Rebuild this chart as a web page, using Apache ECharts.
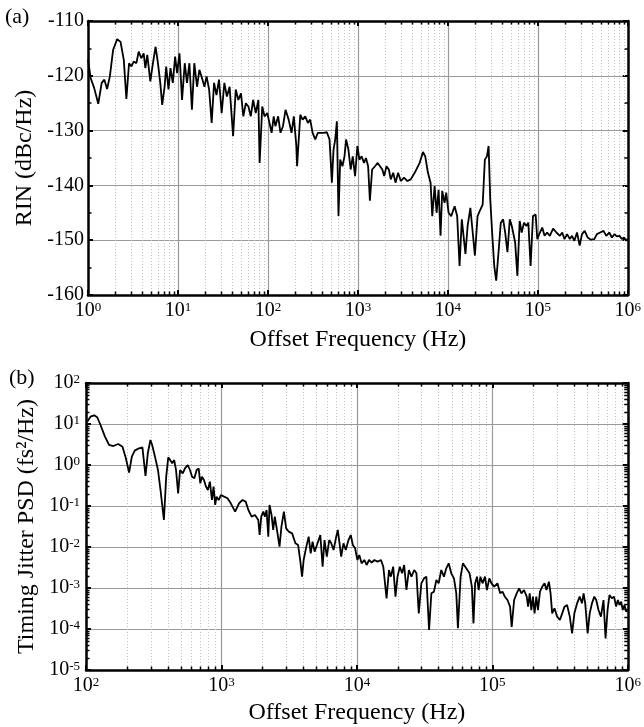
<!DOCTYPE html>
<html>
<head>
<meta charset="utf-8">
<script src="https://cdn.jsdelivr.net/npm/echarts@6/dist/echarts.min.js"></script>
<style>
  html, body { margin: 0; padding: 0; background: #fff; }
  #chart { width: 644px; height: 727px; }
</style>
</head>
<body>
<div id="chart"></div>
<script>
// (a) relative intensity noise spectrum
const freqA = [1.0, 1.07, 1.17, 1.30, 1.42, 1.52, 1.63, 1.75, 1.90, 2.11, 2.30, 2.50, 2.67, 2.86, 3.04, 3.22, 3.45, 3.66, 3.91, 4.16,
  4.34, 4.56, 4.93, 5.27, 5.64, 5.99, 6.36, 6.68, 7.10, 7.40, 7.85, 8.26, 8.76, 9.30, 9.78, 10.4, 11.1, 11.9, 12.6, 13.4,
  14.3, 15.2, 16.3, 17.3, 18.5, 19.7, 20.8, 22.2, 23.7, 25.2, 26.8, 28.6, 30.6, 32.8, 35.0, 37.5, 41.0, 43.9, 46.9, 50.2,
  53.3, 56.8, 60.7, 64.5, 68.5, 73.2, 78.3, 80.9, 86.5, 91.7, 98.3, 104, 110, 116, 121, 130, 138, 147, 157, 170,
  183, 194, 207, 211, 229, 243, 260, 278, 295, 314, 336, 359, 416, 452, 484, 514, 536, 560, 584, 609,
  636, 674, 710, 740, 785, 832, 877, 931, 987, 1040, 1100, 1170, 1230, 1300, 1360, 1440, 1550, 1660, 1760, 1870,
  1960, 2080, 2210, 2320, 2470, 2620, 2800, 3000, 3260, 3550, 3870, 4280, 4860, 5290, 5610, 6010, 6430, 6710, 7130, 7500,
  7890, 8300, 8660, 9190, 9590, 10200, 10900, 11900, 12700, 13500, 14300, 14900, 15700, 16600, 17800, 18900, 20000, 21400, 23000, 24400,
  25800, 27200, 28400, 29600, 31400, 32800, 34500, 36600, 38800, 41200, 43400, 46000, 48800, 51400, 53600, 56000, 59300, 62900, 66200, 70300,
  74600, 78500, 83200, 88400, 94600, 98700, 105700, 112000, 119000, 127000, 136000, 148000, 161000, 176000, 187000, 198000, 212000, 227000, 240000, 255000,
  273000, 292000, 310000, 332000, 358000, 390000, 425000, 454000, 494000, 538000, 577000, 622000, 666000, 713000, 755000, 809000, 858000, 910000, 958000, 1000000];
const rinA = [-117.0, -120.4, -122.2, -125.1, -121.3, -120.7, -122.4, -120.1, -115.3, -113.3, -113.8, -117.1, -124.2, -117.7, -118.3, -117.4, -117.7, -115.6, -116.8, -115.9,
  -118.6, -116.2, -121.0, -117.7, -114.7, -117.7, -121.3, -125.3, -122.0, -118.3, -122.5, -118.6, -121.3, -116.5, -119.5, -115.9, -124.4, -117.7, -121.3, -117.7,
  -126.2, -117.7, -122.0, -118.9, -120.4, -122.0, -120.1, -122.5, -128.6, -121.3, -123.5, -120.7, -126.8, -121.3, -123.8, -122.0, -131.0, -122.5, -124.4, -123.2,
  -127.4, -125.0, -125.6, -127.4, -124.4, -126.8, -124.4, -135.9, -125.6, -127.4, -126.8, -128.6, -130.4, -127.4, -129.2, -127.4, -130.4, -129.2, -126.2, -128.0,
  -130.4, -127.4, -132.8, -136.5, -127.1, -128.0, -127.4, -128.6, -128.0, -130.4, -131.6, -130.4, -130.4, -130.3, -131.6, -139.5, -133.5, -131.6, -128.3, -145.6,
  -135.3, -136.5, -134.7, -131.6, -133.5, -137.1, -134.7, -138.3, -132.8, -135.3, -134.7, -135.9, -135.0, -136.5, -142.8, -137.1, -136.5, -135.9, -136.5, -137.1,
  -138.3, -136.5, -137.1, -138.9, -137.7, -139.5, -137.7, -139.2, -138.6, -139.2, -138.9, -137.7, -135.9, -133.9, -134.7, -137.7, -139.5, -145.6, -140.1, -145.0,
  -140.8, -149.2, -141.0, -143.2, -141.3, -145.0, -145.6, -143.8, -145.6, -154.7, -146.2, -145.9, -152.5, -147.4, -144.1, -148.6, -152.8, -145.6, -144.4, -143.5,
  -135.3, -134.7, -132.8, -142.5, -149.8, -154.7, -157.4, -152.2, -146.8, -146.2, -148.6, -152.2, -146.2, -147.4, -147.1, -150.4, -156.5, -146.5, -148.6, -146.8,
  -147.4, -146.8, -154.7, -145.6, -145.3, -149.8, -148.6, -147.7, -149.2, -148.6, -149.2, -147.9, -148.6, -149.2, -148.6, -149.8, -148.9, -149.8, -149.2, -150.1,
  -148.6, -151.0, -148.9, -148.3, -149.5, -149.9, -149.8, -148.9, -148.6, -148.3, -149.2, -148.6, -149.5, -148.9, -149.3, -149.2, -149.8, -149.5, -150.1, -149.7];

// (b) timing jitter power spectral density
const freqB = [102, 108, 115, 121, 128, 138, 148, 159, 173, 186, 197, 208, 218, 229, 246, 261, 268, 275, 286, 299,
  308, 323, 340, 355, 376, 391, 405, 418, 433, 448, 462, 479, 495, 518, 538, 564, 586, 607, 631, 656,
  679, 698, 718, 743, 769, 794, 822, 851, 875, 899, 920, 953, 991, 1047, 1109, 1172, 1262, 1349, 1429, 1510,
  1581, 1671, 1770, 1871, 1914, 1968, 2037, 2094, 2153, 2218, 2265, 2344, 2410, 2477, 2582, 2685, 2773, 2891, 3006, 3141,
  3327, 3516, 3681, 3828, 3936, 4046, 4207, 4406, 4560, 4710, 4875, 5070, 5212, 5370, 5585, 5768, 5998, 6252, 6471, 6730,
  6998, 7228, 7447, 7656, 7962, 8279, 8670, 9016, 9333, 9705, 10090, 10420, 10840, 11350, 11800, 12300, 12850, 13460, 14220, 15070,
  15670, 16110, 16560, 17260, 17820, 18540, 19280, 19950, 20750, 21580, 22340, 23230, 24210, 25290, 26490, 27540, 28640, 29920, 31330, 32580,
  34120, 35480, 37070, 38640, 40180, 41980, 43950, 45710, 47640, 49770, 52120, 54200, 55720, 58340, 60670, 63100, 65160, 67920, 70630, 72610,
  74650, 77090, 79250, 81660, 84720, 88310, 91200, 95060, 98630, 103300, 109100, 114300, 118900, 123600, 129400, 135200, 139000, 144900, 151400, 157800,
  164100, 171400, 179500, 183700, 188800, 194100, 199500, 205100, 211300, 217300, 224900, 233900, 243200, 251200, 261800, 269200, 276700, 287700, 301300, 315500,
  328100, 341200, 356500, 373300, 388100, 403600, 422700, 441600, 459200, 472100, 485300, 505800, 523600, 544500, 566200, 584800, 608100, 633900, 662200, 685500,
  709600, 732800, 762100, 792500, 820400, 845300, 868900, 893300, 918300, 946200, 972700, 1000000];
const psdB = [11.4, 15.1, 16.3, 14.6, 9.46, 4.91, 3.08, 2.90, 3.25, 2.80, 1.46, 0.650, 1.60, 2.24, 2.55, 2.70, 2.55, 0.540, 1.93, 4.07,
  3.08, 1.60, 0.755, 0.245, 0.0456, 0.519, 1.54, 1.32, 1.10, 1.32, 0.755, 0.204, 0.755, 0.627, 0.830, 1.0, 0.755, 0.519, 0.473, 0.755,
  0.830, 0.357, 0.519, 0.431, 0.296, 0.245, 0.392, 0.140, 0.296, 0.106, 0.169, 0.140, 0.185, 0.169, 0.154, 0.116, 0.0728, 0.116, 0.140, 0.128,
  0.0798, 0.0550, 0.0603, 0.0456, 0.0196, 0.0550, 0.0728, 0.0550, 0.0798, 0.0179, 0.106, 0.0603, 0.0260, 0.0550, 0.0237, 0.0102, 0.0313, 0.0728, 0.0285, 0.0237,
  0.0215, 0.0123, 0.0112, 0.00439, 0.00189, 0.00482, 0.00927, 0.0179, 0.00700, 0.0135, 0.00769, 0.0112, 0.0123, 0.0196, 0.00331, 0.0148, 0.00581, 0.0148, 0.0123, 0.00845,
  0.0163, 0.0260, 0.0123, 0.00581, 0.0123, 0.00845, 0.0148, 0.0196, 0.0112, 0.00927, 0.00482, 0.00638, 0.00400, 0.00482, 0.00364, 0.00482, 0.00415, 0.00482, 0.00439, 0.00482,
  0.00331, 0.00364, 0.000560, 0.00275, 0.00189, 0.00331, 0.000615, 0.00189, 0.00331, 0.00228, 0.00364, 0.000893, 0.00275, 0.00189, 0.00275, 0.00228, 0.000241, 0.00130, 0.00172, 0.00189,
  0.0000946, 0.000741, 0.000815, 0.00157, 0.00130, 0.00275, 0.00189, 0.00302, 0.00400, 0.00228, 0.00172, 0.000741, 0.000104, 0.00189, 0.00400, 0.00331, 0.00364, 0.00228, 0.00108, 0.000137,
  0.00130, 0.00189, 0.000893, 0.00189, 0.00130, 0.00189, 0.000893, 0.00172, 0.00130, 0.00108, 0.00130, 0.000741, 0.000815, 0.000615, 0.000509, 0.000351, 0.000112, 0.000509, 0.000741, 0.000982,
  0.000741, 0.000893, 0.000615, 0.000351, 0.000741, 0.000290, 0.000615, 0.000241, 0.000615, 0.000290, 0.000815, 0.00108, 0.00130, 0.000893, 0.00143, 0.000741, 0.000241, 0.000319, 0.000200, 0.000166,
  0.000241, 0.000351, 0.000385, 0.000200, 0.0000783, 0.000241, 0.000423, 0.000615, 0.000423, 0.000741, 0.000423, 0.0000783, 0.000241, 0.000423, 0.000615, 0.000509, 0.000290, 0.000200, 0.000509, 0.0000592,
  0.000290, 0.000675, 0.000560, 0.000615, 0.000351, 0.000509, 0.000385, 0.000465, 0.000290, 0.000385, 0.000265, 0.000300];

const FONT = '"Liberation Serif", "Times New Roman", serif';

// minor tick positions (2..9 x 10^k) between two decades
function minorTicks(fromExp, toExp) {
  const out = [];
  for (let e = fromExp; e < toExp; e++) {
    for (let m = 2; m <= 9; m++) out.push(m * Math.pow(10, e));
  }
  return out;
}

const powLabel = {
  formatter: v => '{b|10}{s|' + Math.round(Math.log10(v)) + '}',
  rich: {
    b: { fontFamily: FONT, fontSize: 20, color: '#000', verticalAlign: 'bottom' },
    s: { fontFamily: FONT, fontSize: 13, color: '#000', verticalAlign: 'top' }
  }
};

const frameLine = { show: true, onZero: false, lineStyle: { color: '#000', width: 2.5 } };
const majorTick = { show: true, inside: true, length: 5, lineStyle: { color: '#000', width: 2 } };
const majorGrid = { show: true, lineStyle: { color: '#9a9a9a', width: 1.2 } };

function xMinorSeries(xi, yi, yRef, values) {
  return {
    type: 'custom', xAxisIndex: xi, yAxisIndex: yi, silent: true, z: 1, animation: false,
    data: values.map(v => [v, yRef]),
    renderItem(params, api) {
      const cs = params.coordSys;
      const x = Math.round(api.coord([api.value(0), yRef])[0]) + 0.5;
      const top = cs.y, bot = cs.y + cs.height;
      return { type: 'group', children: [
        { type: 'line', shape: { x1: x, y1: top, x2: x, y2: bot }, style: { stroke: '#c4c4c4', lineWidth: 1, lineDash: [1, 2] } },
        { type: 'line', shape: { x1: x, y1: bot, x2: x, y2: bot - 3.5 }, style: { stroke: '#000', lineWidth: 1.5 } },
        { type: 'line', shape: { x1: x, y1: top, x2: x, y2: top + 3.5 }, style: { stroke: '#000', lineWidth: 1.5 } }
      ] };
    }
  };
}

function yMinorSeries(xi, yi, xRef, values) {
  return {
    type: 'custom', xAxisIndex: xi, yAxisIndex: yi, silent: true, z: 1, animation: false,
    data: values.map(v => [xRef, v]),
    renderItem(params, api) {
      const cs = params.coordSys;
      const y = Math.round(api.coord([xRef, api.value(1)])[1]) + 0.5;
      const l = cs.x, r = cs.x + cs.width;
      return { type: 'group', children: [
        { type: 'line', shape: { x1: l, y1: y, x2: l + 3.5, y2: y }, style: { stroke: '#000', lineWidth: 1.5 } },
        { type: 'line', shape: { x1: r, y1: y, x2: r - 3.5, y2: y }, style: { stroke: '#000', lineWidth: 1.5 } }
      ] };
    }
  };
}

const nameStyle = { fontFamily: FONT, fontSize: 24, color: '#000' };

const option = {
  animation: false,
  backgroundColor: '#fff',
  textStyle: { fontFamily: FONT },
  graphic: [
    { type: 'text', left: 5, top: 6, style: { text: '(a)', font: '22px ' + FONT, fill: '#000' } },
    { type: 'text', left: 9, top: 367, style: { text: '(b)', font: '22px ' + FONT, fill: '#000' } }
  ],
  grid: [
    { left: 88, top: 21, width: 543, height: 274 },
    { left: 86, top: 383, width: 545, height: 287 }
  ],
  xAxis: [
    { gridIndex: 0, type: 'log', logBase: 10, min: 1, max: 1e6, position: 'bottom',
      name: 'Offset Frequency (Hz)', nameLocation: 'middle', nameGap: 33, nameTextStyle: nameStyle,
      axisLine: frameLine, axisTick: majorTick, splitLine: majorGrid,
      axisLabel: Object.assign({ margin: 6 }, powLabel) },
    { gridIndex: 0, type: 'log', logBase: 10, min: 1, max: 1e6, position: 'top',
      axisLine: frameLine, axisTick: majorTick, splitLine: { show: false }, axisLabel: { show: false } },
    { gridIndex: 1, type: 'log', logBase: 10, min: 100, max: 1e6, position: 'bottom',
      name: 'Offset Frequency (Hz)', nameLocation: 'middle', nameGap: 31, nameTextStyle: nameStyle,
      axisLine: frameLine, axisTick: majorTick, splitLine: majorGrid,
      axisLabel: Object.assign({ margin: 6 }, powLabel) },
    { gridIndex: 1, type: 'log', logBase: 10, min: 100, max: 1e6, position: 'top',
      axisLine: frameLine, axisTick: majorTick, splitLine: { show: false }, axisLabel: { show: false } }
  ],
  yAxis: [
    { gridIndex: 0, type: 'value', min: -160, max: -110, interval: 10, position: 'left',
      name: 'RIN (dBc/Hz)', nameLocation: 'middle', nameGap: 51, nameTextStyle: nameStyle,
      axisLine: frameLine, axisTick: majorTick, splitLine: majorGrid,
      minorTick: { show: true, splitNumber: 2, length: 3.5, lineStyle: { color: '#000', width: 1.5 } },
      axisLabel: { margin: 4, fontFamily: FONT, fontSize: 20, color: '#000' } },
    { gridIndex: 0, type: 'value', min: -160, max: -110, interval: 10, position: 'right',
      axisLine: frameLine, axisTick: majorTick, splitLine: { show: false },
      minorTick: { show: true, splitNumber: 2, length: 3.5, lineStyle: { color: '#000', width: 1.5 } },
      axisLabel: { show: false } },
    { gridIndex: 1, type: 'log', logBase: 10, min: 1e-5, max: 100, position: 'left',
      name: 'Timing Jitter PSD (fs²/Hz)', nameLocation: 'middle', nameGap: 42, nameTextStyle: nameStyle,
      axisLine: frameLine, axisTick: majorTick, splitLine: majorGrid,
      axisLabel: Object.assign({ margin: 6 }, powLabel) },
    { gridIndex: 1, type: 'log', logBase: 10, min: 1e-5, max: 100, position: 'right',
      axisLine: frameLine, axisTick: majorTick, splitLine: { show: false }, axisLabel: { show: false } }
  ],
  series: [
    xMinorSeries(0, 0, -135, minorTicks(0, 6)),
    xMinorSeries(2, 2, 1, minorTicks(2, 6)),
    yMinorSeries(2, 2, 1000, minorTicks(-5, 2)),
    { type: 'line', xAxisIndex: 0, yAxisIndex: 0, z: 3, showSymbol: false, symbol: 'none',
      lineStyle: { color: '#000', width: 1.8 },
      data: freqA.map((f, i) => [f, rinA[i]]) },
    { type: 'line', xAxisIndex: 2, yAxisIndex: 2, z: 3, showSymbol: false, symbol: 'none',
      lineStyle: { color: '#000', width: 1.8 },
      data: freqB.map((f, i) => [f, psdB[i]]) }
  ]
};

const chart = echarts.init(document.getElementById('chart'), null, { renderer: 'canvas' });
chart.setOption(option);
</script>
</body>
</html>
